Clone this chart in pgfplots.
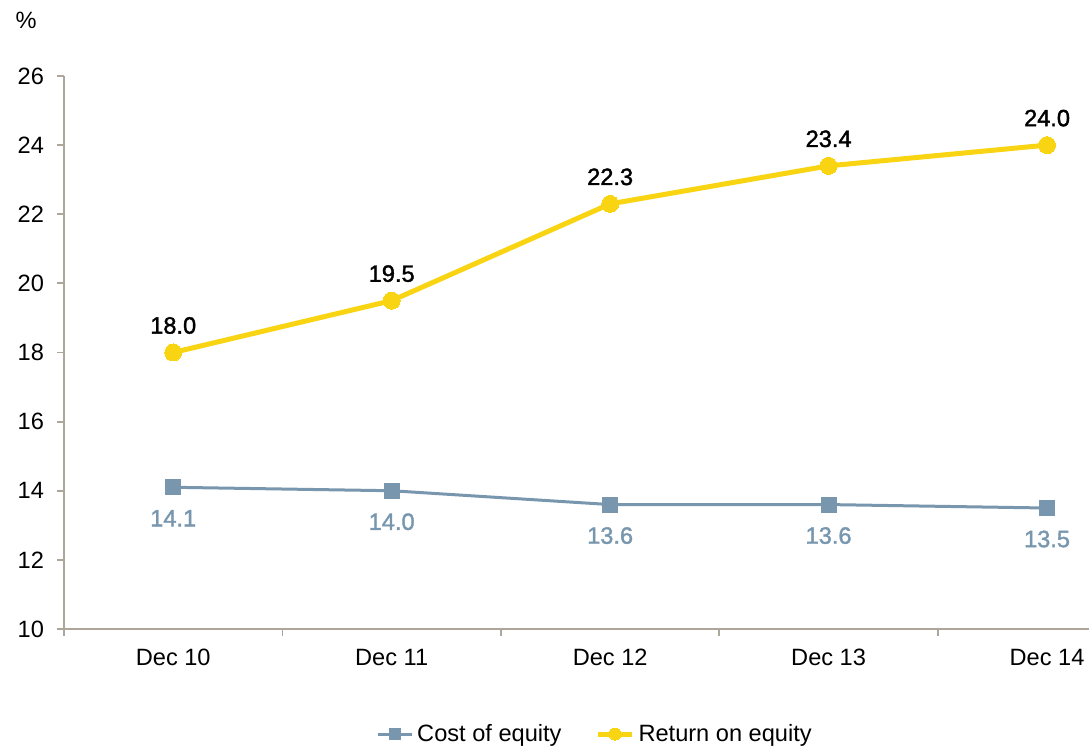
\documentclass[border=0pt]{standalone}
\usepackage{fontspec}
\setmainfont{Liberation Sans}
\newfontfamily\medfont[FakeBold=1.6]{Liberation Sans}
\usepackage{pgfplots}
\pgfplotsset{compat=1.18}
\definecolor{roe}{HTML}{F9D413}
\definecolor{coe}{HTML}{7897AF}
\definecolor{axisgray}{HTML}{ADA69B}
\begin{document}
\begin{tikzpicture}[font=\fontsize{11.8}{14}\selectfont]
\useasboundingbox (-32pt,-60pt) rectangle (512.5pt,314.5pt);
\begin{axis}[
  scale only axis, width=512.5pt, height=276.5pt,
  xmin=-0.5, xmax=4.192, ymin=10, ymax=26,
  axis lines=left,
  axis line style={-, draw=axisgray, line width=0.9pt},
  every tick/.style={draw=axisgray, line width=0.9pt},
  tick align=outside,
  major tick length=3.5pt,
  /pgf/number format/assume math mode=true,
  ytick={10,12,...,26},
  yticklabel style={xshift=-3pt},
  xtick={-0.5,0.5,1.5,2.5,3.5},
  xticklabels={},
  extra x ticks={0,1,2,3,4},
  extra x tick labels={Dec 10,Dec 11,Dec 12,Dec 13,Dec 14},
  extra x tick style={major tick length=0pt, xticklabel style={yshift=-6.5pt}},
  legend style={at={(0.519,-0.19)}, anchor=center, draw=none, fill=none,
    legend columns=2, font=\fontsize{11.8}{14}\selectfont,
    /tikz/every even column/.append style={column sep=15pt}},
  legend image code/.code={%
    \draw[mark repeat=2, mark phase=2, every mark/.append style={scale=0.7}, #1]
      plot coordinates {(0pt,0pt) (8.5pt,0pt) (17pt,0pt)};},
  nodes near coords={\pgfmathprintnumber[fixed,fixed zerofill,precision=1]{\pgfplotspointmeta}},
  point meta=y,
  clip=false,
]
\addplot[coe, line width=1.5pt, mark=square*, mark size=3.25pt,
  mark options={solid, fill=coe, draw=coe},
  every node near coord/.append style={anchor=center, yshift=-15.5pt,
    text=coe, font=\medfont\fontsize{11.8}{14}\selectfont}]
  coordinates {(0,14.1) (1,14.0) (2,13.6) (3,13.6) (4,13.5)};
\addlegendentry{Cost of equity}
\addplot[roe, line width=2.5pt, mark=*, mark size=4.25pt,
  mark options={solid, fill=roe, draw=roe, line width=0pt},
  every node near coord/.append style={anchor=center, yshift=13.5pt,
    text=black, font=\medfont\fontsize{11.8}{14}\selectfont}]
  coordinates {(0,18.0) (1,19.5) (2,22.3) (3,23.4) (4,24.0)};
\addlegendentry{Return on equity}
\node at (rel axis cs:-0.037,1.101) {\%};
\end{axis}
\end{tikzpicture}
\end{document}
